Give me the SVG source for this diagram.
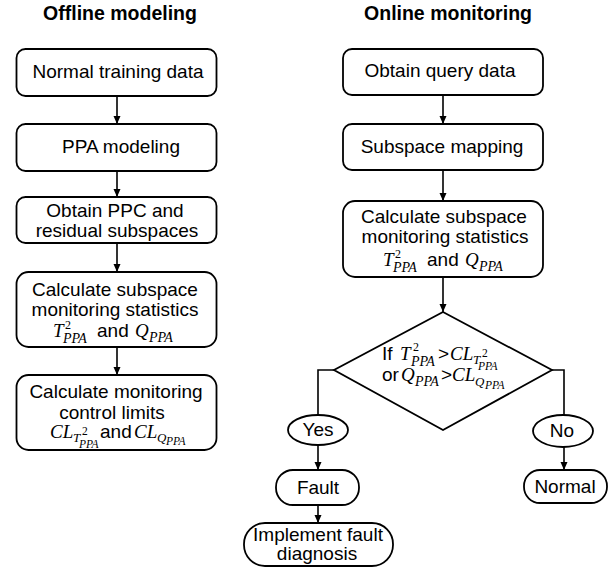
<svg xmlns="http://www.w3.org/2000/svg" width="614" height="568" viewBox="0 0 614 568">
<defs>
<marker id="ah" markerWidth="8" markerHeight="8" refX="8" refY="4" orient="auto" markerUnits="userSpaceOnUse">
<path d="M0,0.5 L8,4 L0,7.5 z" fill="#000"/>
</marker>
<style>
.box{fill:#fff;stroke:#000;stroke-width:1.8}
.t{font-family:"Liberation Sans",Arial,sans-serif;font-size:19px;fill:#000}
.c{text-anchor:middle}
.title{font-weight:bold;font-size:19.5px}
.m{font-family:"Liberation Serif","Times New Roman",serif;font-style:italic;font-size:19px;fill:#000}
.s1{font-size:14px}
.s1b{font-size:13px}
.s2{font-size:11.5px}
.sp{font-size:12px}
.n{font-style:normal}
.ln{fill:none;stroke:#000;stroke-width:1.6}
</style>
</defs>
<rect width="614" height="568" fill="#fff"/>

<text class="t c title" x="120" y="20">Offline modeling</text>
<text class="t c title" x="448" y="20">Online monitoring</text>

<g id="connectors">
<path class="ln" d="M117,96 V124" marker-end="url(#ah)"/>
<path class="ln" d="M117,171 V197" marker-end="url(#ah)"/>
<path class="ln" d="M117,243 V272" marker-end="url(#ah)"/>
<path class="ln" d="M117,347 V375" marker-end="url(#ah)"/>
<path class="ln" d="M443,95 V124" marker-end="url(#ah)"/>
<path class="ln" d="M443,170 V201" marker-end="url(#ah)"/>
<path class="ln" d="M443,277 V312" marker-end="url(#ah)"/>
<path class="ln" d="M334,370 H318 V415"/>
<path class="ln" d="M552,370 H564 V415"/>
<path class="ln" d="M318,445 V470" marker-end="url(#ah)"/>
<path class="ln" d="M318,505 V523" marker-end="url(#ah)"/>
<path class="ln" d="M564,447 V470" marker-end="url(#ah)"/>
</g>

<g id="normal-training-data">
<rect class="box" x="16.5" y="49" width="200" height="47" rx="9"/>
<text class="t c" x="118" y="78">Normal training data</text>
</g>
<g id="ppa-modeling">
<rect class="box" x="16.5" y="124" width="200" height="47" rx="9"/>
<text class="t c" x="121" y="153">PPA modeling</text>
</g>
<g id="obtain-ppc">
<rect class="box" x="16.5" y="197" width="200" height="46" rx="9"/>
<text class="t c" x="115" y="217">Obtain PPC and</text>
<text class="t c" x="117" y="237">residual subspaces</text>
</g>
<g id="calc-stats-offline">
<rect class="box" x="16.5" y="272" width="200" height="75" rx="12"/>
<text class="t c" x="115" y="296">Calculate subspace</text>
<text class="t c" x="115" y="316">monitoring statistics</text>
<text class="m" x="53" y="337">T</text>
<text class="m n sp" x="65" y="329">2</text>
<text class="m s1" x="63" y="343">PPA</text>
<text class="t" x="97" y="337">and</text>
<text class="m" x="135" y="337">Q</text>
<text class="m s1" x="149" y="342">PPA</text>
</g>
<g id="calc-limits">
<rect class="box" x="16.5" y="375" width="200" height="75" rx="12"/>
<text class="t c" x="116" y="398">Calculate monitoring</text>
<text class="t c" x="112" y="419">control limits</text>
<text class="m" x="50" y="438">CL</text>
<text class="m s1b" x="73" y="442">T</text>
<text class="m n s2" x="82" y="435">2</text>
<text class="m s2" x="79" y="448">PPA</text>
<text class="t" x="100" y="438">and</text>
<text class="m" x="134" y="438">CL</text>
<text class="m s1b" x="157" y="442">Q</text>
<text class="m s2" x="166" y="445">PPA</text>
</g>

<g id="obtain-query">
<rect class="box" x="343" y="49" width="200" height="46" rx="9"/>
<text class="t c" x="440" y="77">Obtain query data</text>
</g>
<g id="subspace-mapping">
<rect class="box" x="343" y="124" width="200" height="46" rx="9"/>
<text class="t c" x="442" y="153">Subspace mapping</text>
</g>
<g id="calc-stats-online">
<rect class="box" x="343" y="201" width="200" height="76" rx="12"/>
<text class="t c" x="444" y="223">Calculate subspace</text>
<text class="t c" x="445" y="243">monitoring statistics</text>
<text class="m" x="383" y="266">T</text>
<text class="m n sp" x="395" y="258">2</text>
<text class="m s1" x="393" y="272">PPA</text>
<text class="t" x="427" y="266">and</text>
<text class="m" x="465" y="266">Q</text>
<text class="m s1" x="479" y="271">PPA</text>
</g>
<g id="decision">
<path class="box" d="M443,312 L552,370 L443,430 L334,370 z"/>
<text class="t" x="382" y="360">If</text>
<text class="m" x="400" y="360">T</text>
<text class="m n sp" x="413" y="351">2</text>
<text class="m s1" x="411" y="366">PPA</text>
<text class="t" x="438" y="360">&gt;</text>
<text class="m" x="450" y="360">CL</text>
<text class="m s1b" x="473" y="364">T</text>
<text class="m n s2" x="482" y="357">2</text>
<text class="m s2" x="478" y="370">PPA</text>
<text class="t" x="382" y="381">or</text>
<text class="m" x="401" y="381">Q</text>
<text class="m s1" x="415" y="386">PPA</text>
<text class="t" x="441" y="381">&gt;</text>
<text class="m" x="452" y="381">CL</text>
<text class="m s1b" x="475" y="386">Q</text>
<text class="m s2" x="485" y="389">PPA</text>
</g>
<g id="yes">
<ellipse class="box" cx="318" cy="430" rx="30" ry="15"/>
<text class="t c" x="318" y="436">Yes</text>
</g>
<g id="no">
<ellipse class="box" cx="563" cy="431" rx="30" ry="16"/>
<text class="t c" x="562" y="437">No</text>
</g>
<g id="fault">
<rect class="box" x="276" y="470" width="83" height="35" rx="17"/>
<text class="t c" x="318" y="494">Fault</text>
</g>
<g id="normal">
<rect class="box" x="524" y="470" width="83" height="33" rx="16"/>
<text class="t c" x="565" y="493">Normal</text>
</g>
<g id="fault-diagnosis">
<rect class="box" x="244" y="523" width="149" height="43" rx="21"/>
<text class="t c" x="318" y="541">Implement fault</text>
<text class="t c" x="317" y="560">diagnosis</text>
</g>
</svg>
